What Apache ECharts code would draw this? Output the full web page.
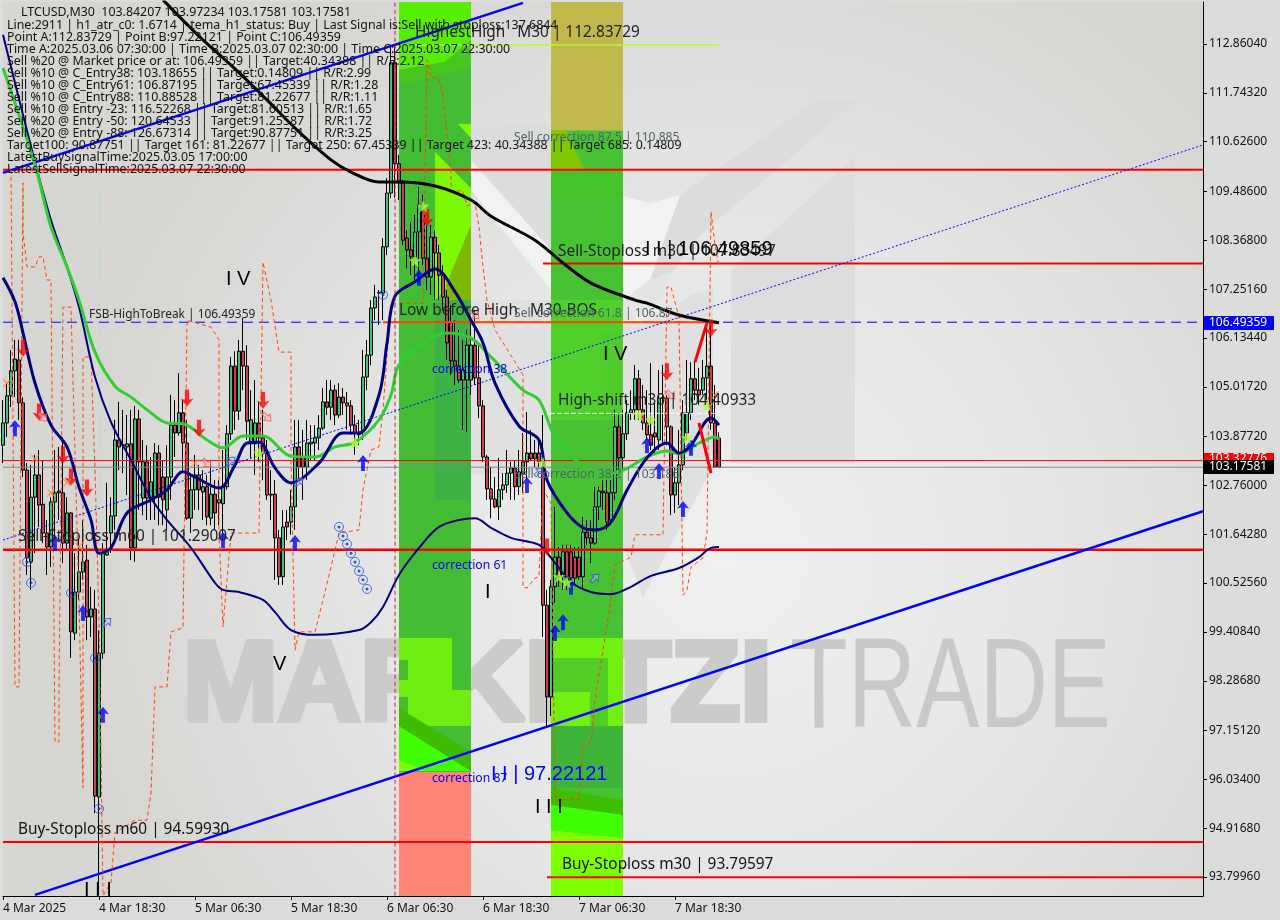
<!DOCTYPE html>
<html><head><meta charset="utf-8">
<style>html,body{margin:0;padding:0;background:#dcdcdc}#c{width:1280px;height:920px}</style>
<script src="https://cdn.jsdelivr.net/npm/echarts@6/dist/echarts.min.js"></script>
</head><body><div id="c"></div>
<script>
const opens=[103.68,104.19,104.81,105.38,105.63,104.65,103.11,101.01,102.49,103.00,102.33,101.67,101.35,102.38,102.59,102.59,101.44,102.13,99.38,100.32,100.78,101.05,99.75,99.93,95.63,98.92,101.17,101.67,102.06,103.80,103.69,103.64,103.71,101.33,104.28,102.47,103.30,102.43,102.49,103.50,102.95,102.20,102.95,104.14,103.96,104.42,103.73,102.01,102.66,103.00,102.61,102.73,102.01,102.56,102.36,102.34,102.73,103.94,105.49,104.46,105.83,105.49,103.71,103.71,104.19,103.85,103.50,102.54,102.56,101.56,100.67,101.92,101.92,102.27,103.64,103.41,103.18,103.71,103.73,103.85,104.07,104.67,104.55,104.94,104.37,104.78,104.65,104.58,104.14,103.96,103.98,105.24,105.74,106.82,107.16,107.16,108.22,109.45,112.43,110.12,109.68,108.42,108.15,107.99,108.56,109.18,107.96,107.53,108.44,108.08,107.57,107.07,106.48,105.61,105.49,105.17,105.17,105.17,105.97,105.22,104.58,103.41,102.68,102.45,102.27,102.66,102.77,103.04,103.16,102.73,103.02,103.30,103.50,103.50,103.50,103.18,100.02,97.92,100.44,101.12,100.67,101.24,101.24,101.12,101.12,100.67,101.69,101.56,101.44,102.27,102.63,102.59,101.97,102.59,104.10,103.39,103.94,104.42,104.49,105.20,104.49,104.19,103.92,103.96,103.80,104.75,104.76,104.10,102.54,102.82,103.23,103.96,104.42,105.20,104.94,104.94,105.22,105.49,104.19,103.84207];
const closes=[104.19,104.81,105.38,105.65,104.65,103.11,101.10,102.49,103.00,102.31,101.67,101.35,102.38,102.59,102.63,101.44,102.13,99.41,100.32,100.78,101.01,99.75,99.93,95.65,98.92,101.21,101.24,102.06,103.80,103.64,103.68,103.71,101.33,104.28,103.30,103.30,102.47,102.84,103.50,102.49,102.43,102.95,104.14,103.96,104.42,103.73,102.01,102.66,103.00,102.66,102.73,102.04,102.56,102.13,102.43,102.73,103.94,105.49,104.46,105.83,105.49,104.23,104.26,104.19,103.85,103.50,102.54,102.56,101.56,100.67,101.81,101.81,102.27,103.64,103.18,103.18,103.73,103.75,103.85,104.07,104.67,104.55,104.94,104.37,104.78,104.65,104.58,104.14,103.96,103.92,105.24,105.74,106.82,107.07,107.17,108.22,109.45,112.43,110.12,109.68,108.37,108.15,107.99,108.56,109.18,107.96,107.53,108.44,108.08,107.57,107.07,106.02,105.61,105.49,105.17,105.40,105.97,105.97,105.22,104.58,103.41,102.68,102.45,102.27,102.66,102.77,103.04,103.16,102.73,103.07,103.30,103.50,103.37,103.37,103.30,100.02,97.92,100.44,101.12,100.67,101.24,100.67,100.64,100.64,100.67,101.69,101.56,101.44,102.27,102.63,102.59,101.92,102.59,104.10,103.39,103.94,104.42,104.49,105.20,104.49,104.19,103.92,103.68,103.87,104.76,104.77,104.10,102.54,102.82,103.23,104.42,104.42,105.20,104.94,104.83,105.22,105.49,104.19,103.18,103.17581];
const lows=[103.27,103.87,104.55,104.78,104.26,102.95,100.71,100.37,101.21,101.81,101.44,100.71,100.89,101.51,101.97,100.98,101.28,98.81,99.22,100.14,100.60,99.22,99.29,95.26,93.39,98.79,101.15,101.21,101.74,103.11,103.04,102.54,101.05,101.01,102.20,102.08,101.97,101.97,101.97,101.85,101.85,101.74,102.43,103.41,103.90,103.11,101.97,101.67,102.20,102.20,101.97,101.85,101.85,101.74,101.85,101.51,102.66,103.80,104.03,104.26,104.94,103.80,103.39,103.00,103.30,102.88,102.43,101.97,100.60,100.48,100.48,101.51,101.63,101.74,102.88,102.43,102.88,103.34,103.34,103.57,104.03,104.37,104.26,104.14,104.30,104.37,104.03,103.92,103.46,103.68,103.80,104.94,105.51,106.54,106.43,106.54,108.03,109.34,109.34,109.29,108.26,107.73,107.57,107.46,107.46,107.80,107.23,107.12,107.00,107.00,106.77,105.63,105.29,105.06,105.10,104.03,103.98,104.83,105.06,104.30,103.30,102.43,102.01,102.24,101.97,102.43,102.59,102.43,102.43,102.54,102.59,102.88,103.34,103.18,103.18,99.29,97.25,97.48,100.07,100.44,100.37,100.37,100.48,100.48,100.60,100.37,101.40,100.98,101.40,101.97,102.20,101.74,101.85,102.43,103.11,103.11,103.80,104.26,104.26,104.26,104.03,103.80,103.57,103.46,103.57,103.68,103.68,102.08,102.13,102.31,103.11,103.80,104.26,104.71,104.60,104.83,104.71,104.03,103.16,103.17581];
const highs=[104.71,105.10,105.86,106.09,106.09,104.78,103.27,103.23,103.46,103.57,103.34,101.97,102.49,103.57,103.64,103.87,102.49,102.15,101.21,101.51,101.97,101.40,100.44,100.37,99.45,101.44,102.82,102.49,104.26,104.67,104.49,104.37,104.49,104.58,104.49,103.80,103.68,103.41,103.73,103.68,103.34,103.68,104.83,104.71,105.33,104.71,104.26,103.04,103.46,103.23,103.11,103.00,103.34,102.88,102.88,103.57,104.14,105.70,105.83,106.09,106.59,105.97,104.94,105.17,104.67,104.49,103.80,103.11,102.88,101.74,102.20,102.20,102.66,104.26,104.26,104.03,104.26,104.14,104.14,104.37,104.99,105.17,105.17,105.06,105.10,104.99,104.90,104.71,104.37,104.26,105.86,106.09,107.00,107.35,107.23,108.42,109.79,112.84,112.84,110.32,109.75,108.60,108.79,108.95,109.59,109.41,108.72,108.72,108.60,108.26,107.80,107.23,106.89,106.54,106.32,106.09,106.32,106.54,106.77,105.97,104.71,103.46,103.18,102.95,103.39,103.04,103.57,103.30,103.34,103.57,103.96,104.44,104.03,103.80,103.80,104.37,100.37,100.60,102.27,101.35,101.40,101.40,101.40,101.35,101.35,102.04,101.97,101.97,102.73,102.73,102.88,102.88,102.88,104.49,104.37,104.49,104.71,104.94,105.52,105.40,105.06,104.94,105.56,104.71,105.40,105.52,104.83,104.14,103.18,104.03,104.71,105.63,105.58,105.63,105.45,105.63,106.50,106.50,105.06,103.97234];

const navyThin=[[0,113.07],[8,110.16],[12,108.83],[16,107.76],[19,106.84],[23,105.24],[27,104.21],[32,103.34],[37,102.47],[41,101.97],[47,101.33],[53,100.53],[55,100.37],[59,100.32],[65,100.14],[68,99.86],[72,99.45],[78,99.34],[89,99.45],[92,99.63],[95,99.98],[99,100.71],[104,101.33],[109,101.81],[114,101.97],[118,102.01],[122,101.79],[127,101.56],[134,101.40],[137,101.10],[142,100.55],[147,100.32],[152,100.27],[157,100.44],[162,100.69],[169,100.87],[174,101.12],[177,101.33],[179,101.35]];
const navyThick=[[0,107.51],[3,106.96],[5,106.25],[8,105.10],[12,104.14],[16,103.64],[19,102.72],[22,101.97],[24,101.21],[27,101.33],[31,102.13],[37,102.43],[41,102.66],[45,103.07],[48,102.95],[54,102.70],[58,103.23],[61,103.73],[64,103.75],[68,103.16],[72,102.82],[79,103.27],[85,103.96],[89,103.96],[94,104.83],[96,106.02],[98,107.09],[103,107.42],[108,107.71],[113,107.19],[117,106.54],[120,106.02],[123,105.10],[129,104.12],[134,103.80],[136,102.88],[141,102.13],[145,101.79],[148,101.74],[152,101.92],[156,102.65],[161,103.39],[166,103.73],[169,103.50],[172,103.68],[177,104.30],[179,104.14]];
const greenLine=[[0,112.31],[8,110.09],[12,108.67],[16,107.76],[19,107.00],[23,105.81],[28,105.03],[32,104.78],[36,104.49],[41,104.19],[45,104.17],[51,103.80],[55,103.62],[60,103.89],[65,103.89],[72,103.43],[78,103.41],[83,103.64],[88,103.75],[94,104.26],[97,104.83],[99,105.52],[105,106.02],[111,106.25],[117,106.13],[122,105.70],[130,104.94],[134,104.71],[138,103.87],[144,103.27],[149,103.00],[155,103.11],[161,103.41],[166,103.55],[169,103.48],[174,103.73],[178,103.87],[179,103.82]];
const blackLine=[[40,113.87],[49,113.04],[58,112.29],[66,111.58],[74,110.85],[82,110.21],[87,109.93],[94,109.70],[99,109.70],[108,109.61],[117,109.29],[122,108.92],[133,108.37],[140,107.85],[147,107.39],[158,107.00],[161,106.93],[169,106.66],[179,106.48]];
const orangeLine=[[2,109.98],[3,98.15],[4,98.15],[5,109.68],[5,108.54],[6,107.76],[8,107.76],[9,107.99],[10,107.99],[11,107.46],[12,107.46],[13,96.89],[14,96.89],[14,98.12],[15,106.84],[17,106.84],[19,100.14],[20,95.84],[20,105.70],[22,105.70],[23,103.11],[24,99.68],[25,93.37],[27,93.66],[28,94.81],[33,95.10],[36,95.10],[37,95.72],[38,98.15],[41,98.15],[42,99.41],[45,99.50],[46,106.54],[52,106.38],[54,106.09],[54,101.67],[55,99.52],[57,101.67],[64,101.67],[65,107.87],[67,107.00],[69,105.81],[72,105.81],[72,103.34],[73,98.99],[74,99.41],[78,99.41],[80,100.14],[82,100.89],[84,101.67],[89,101.74],[90,102.66],[92,103.57],[94,103.64],[95,104.49],[97,106.93],[105,106.93],[106,112.50],[107,112.10],[109,112.08],[110,111.65],[112,109.98],[112,109.50],[115,109.50],[116,109.15],[118,109.24],[119,108.67],[120,107.76],[121,107.00],[123,106.32],[130,105.29],[130,100.44],[131,100.41],[133,100.64],[134,100.67],[135,102.66],[137,102.36],[138,95.56],[144,95.58],[145,96.87],[147,96.87],[148,97.85],[150,98.99],[152,100.14],[153,100.94],[157,101.12],[158,101.63],[165,101.63],[166,107.30],[167,107.30],[169,106.61],[170,100.25],[171,100.37],[172,100.89],[175,101.10],[176,101.67],[177,109.02],[178,108.26],[179,107.76]];

const trendLow=[[8,93.39],[300,102.17]];
const trendHigh=[[0,109.91],[130,113.80]];
const trendDotted=[[0,101.51],[300,110.55]];
const redUp=[[173,105.58],[176,106.48]];
const redDown=[[174,104.19],[177,103.04]];

const sellArrows=[[5,105.90],[9,104.44],[15,103.46],[17,102.95],[21,102.70],[46,104.76],[49,104.07],[65,104.71],[106,108.88],[136,101.35],[166,105.36],[177,106.36]];
const buyArrows=[[3,104.07],[13,101.44],[20,99.84],[25,97.51],[55,101.51],[73,101.44],[90,103.27],[104,107.51],[131,102.77],[138,99.38],[140,99.63],[142,100.44],[161,103.68],[164,103.09],[170,102.22],[172,103.62]];
const stars=[[64,103.50],[88,103.73],[105,109.15],[103,107.90],[135,103.27],[139,100.67],[141,100.55],[159,104.37],[162,104.26],[171,103.85],[176,104.60]];
const crosses=[[1,105.10],[8,103.37],[12,102.59],[16,102.82],[19,101.36],[48,103.27],[178,104.83]];
const circles=[[84,101.81],[85,101.60],[86,101.42],[87,101.21],[88,101.01],[89,100.80],[90,100.60],[91,100.39],[6,101.01],[7,100.53],[17,100.30],[23,98.81],[24,95.36],[95,107.12]];
const hollowSell=[[10,104.32],[51,103.27],[66,104.32],[118,106.66],[167,104.83]];
const hollowBuy=[[26,99.63],[57,103.32],[74,102.84],[148,100.64],[134,103.07]];

const priceTicks=[112.8604,111.7432,110.626,109.486,108.368,107.2516,106.1344,105.0172,103.8772,102.76,101.6428,100.5256,99.4084,98.2868,97.1512,96.034,94.9168,93.7996];
const timeTickIdx=[0,24,48,72,96,120,144,168];
const timeTickLabels=['4 Mar 2025','4 Mar 18:30','5 Mar 06:30','5 Mar 18:30','6 Mar 06:30','6 Mar 18:30','7 Mar 06:30','7 Mar 18:30'];

const hLevels=[
 [109.98,0,300,'#ff0000',2,'solid'],
 [107.83497,135,300,'#ff0000',2,'solid'],
 [106.49359,0,300,'#0000ff',1,[10,6]],
 [106.49359,95,179,'#ff4500',2,'solid'],
 [103.32776,0,300,'#ff0000',1,'solid'],
 [103.17581,0,300,'#808890',1,'solid'],
 [101.29007,0,300,'#ff0000',2.5,'solid'],
 [94.5993,0,300,'#ff0000',2,'solid'],
 [93.79597,136,300,'#ff0000',2,'solid'],
 [112.83729,103,179,'#adff2f',1.5,'solid'],
 [104.40933,135,179,'#ffffff',1,[5,2]]
];
const headerLines=['LTCUSD,M30  103.84207 103.97234 103.17581 103.17581',
'Line:2911 | h1_atr_c0: 1.6714 | tema_h1_status: Buy | Last Signal is:Sell with stoploss:137.6844',
'Point A:112.83729 | Point B:97.22121 | Point C:106.49359',
'Time A:2025.03.06 07:30:00 | Time B:2025.03.07 02:30:00 | Time C:2025.03.07 22:30:00',
'Sell %20 @ Market price or at: 106.49359 || Target:40.34388 || R/R:2.12',
'Sell %10 @ C_Entry38: 103.18655 || Target:0.14809 || R/R:2.99',
'Sell %10 @ C_Entry61: 106.87195 || Target:67.45339 || R/R:1.28',
'Sell %10 @ C_Entry88: 110.88528 || Target:81.22677 || R/R:1.11',
'Sell %10 @ Entry -23: 116.52268 || Target:81.60513 || R/R:1.65',
'Sell %20 @ Entry -50: 120.64533 || Target:91.25587 || R/R:1.72',
'Sell %20 @ Entry -88: 126.67314 || Target:90.87751 || R/R:3.25',
'Target100: 90.87751 || Target 161: 81.22677 || Target 250: 67.45339 || Target 423: 40.34388 || Target 685: 0.14809',
'LatestBuySignalTime:2025.03.05 17:00:00',
'LatestSellSignalTime:2025.03.07 22:30:00'];
const ROMAN='"Liberation Sans",sans-serif';
const notes=[
 ['FSB-HighToBreak | 106.49359',89,315,11.9,'#222'],
 ['Sell-Stoploss m60 | 101.29007',18,537,15.4,'#222'],
 ['Buy-Stoploss m60 | 94.59930',18,830,15.4,'#111'],
 ['HighestHigh   M30 | 112.83729',415,33,15.4,'#222'],
 ['Sell correction 87.5 | 110.885',514,138,12.1,'#4f6468'],
 ['Sell-Stoploss m30 | 107.83497',558,252,15.4,'#222'],
 ['I I | 106.49859',645,249,20,'#000',ROMAN],
 ['Low before High   M30-BOS',399,311,15.4,'#222'],
 ['Sell correction 61.8 | 106.87',514,314,12.1,'#4f6468'],
 ['I V',226,279,20,'#000',ROMAN],['I V',603,354,20,'#000',ROMAN],
 ['High-shift m30 | 104.40933',558,401,15.4,'#222'],
 ['Sell correction 38.2 | 103.186',514,475,12.1,'#4f6468'],
 ['correction 38',432,370,12.2,'#0000ff'],
 ['correction 61',432,566,12.2,'#0000ff'],
 ['correction 87',432,779,12.2,'#0000ff'],
 ['I',485,592,20,'#000',ROMAN],['V',273,664,20,'#000',ROMAN],
 ['I I | 97.22121',491,774,20,'#0000ff',ROMAN],
 ['I I I',535,807,20,'#000',ROMAN],['I I I',84,890,20,'#000',ROMAN],
 ['Buy-Stoploss m30 | 93.79597',562,865,15.4,'#111']
];
const bandSegs=[
 [99,117,113.82,93.37,'#43bd33'],
 [99,117,96.2,93.37,'#ff8677'],
 [137,155,113.82,93.37,'#47c232'],
 [137,155,113.82,110.88,'#c0b84a']
];

const FONT='"Noto Sans","Open Sans",sans-serif';
const cats=Array.from({length:301},(_,i)=>{const k=timeTickIdx.indexOf(i);return k>=0?timeTickLabels[k]:''});
const isTick=(i,v)=>v!=='';
const poly=(pts,fill,z)=>({type:'polygon',silent:true,z:z,shape:{points:pts},style:{fill}});
const rect=(x,y,w,h,fill,z)=>({type:'rect',silent:true,z:z,shape:{x,y,width:w,height:h},style:{fill}});
const text=(t,x,y,size,fill,font)=>({type:'text',silent:true,z:100,style:{text:t,x,y,fill,font:size+'px '+(font||FONT),textVerticalAlign:'middle'}});

const graphics=[
 rect(3,2,1200,894,{type:'radial',x:0.6,y:0.62,r:0.72,colorStops:[{offset:0,color:'#f0f0f0'},{offset:0.5,color:'#e6e6e6'},{offset:1,color:'#d7d6d3'}]},-5),
 // faint logo shapes behind the chart
 rect(435,300,116,174,'#e0e0e0',-4),
 poly([[471,124],[551,124],[551,250],[471,160]],'#dcdcdc',-4),
 poly([[471,160],[551,250],[551,290],[471,190]],'#f2f2f2',-4),
 poly([[731,270],[855,157],[855,463],[731,463]],'#dddddd',-4),
 poly([[623,325],[660,318],[690,295],[713,288],[713,467],[643,597],[623,545]],'#e0e0e0',-4),
 poly([[680,195],[817,100],[858,100],[700,235],[672,272],[650,280]],'#dcdcdc',-4),
 poly([[623,196],[650,203],[680,195],[650,280],[623,300]],'#f2f2f2',-4),
 poly([[623,300],[650,280],[672,272],[660,300],[623,325]],'#e4e4e4',-4),
 // watermark, real text
 {type:'text',silent:true,z:-3,x:183,y:746,scaleX:1,style:{text:'MARKETZI',x:0,y:0,fill:'#cbcbc9',stroke:'#cbcbc9',lineWidth:6,font:'bold 114px "Liberation Sans"',textVerticalAlign:'bottom'}},
 {type:'text',silent:true,z:-3,x:790,y:756,scaleX:0.74,style:{text:'TRADE',x:0,y:0,fill:'#c9c9c7',font:'128px "Liberation Sans"',textVerticalAlign:'bottom'}},
 // facets of the bands, where they cross the logo and the backdrop
 poly([[399,2],[471,2],[471,40],[445,62],[399,70]],'#58ee04',1),
 poly([[399,70],[445,62],[471,40],[471,68],[399,85]],'#46c61f',1),
 poly([[458,124],[471,124],[471,138]],'#82f800',1),
 poly([[435,152],[471,188],[471,240],[445,290],[435,300]],'#7cf800',1),
 poly([[446,285],[471,225],[471,300],[446,300]],'#7fb800',1),
 rect(435,300,36,200,'#3cb344',1),
 rect(399,638,53,88,'#70ee12',1),
 rect(452,690,19,36,'#70ee12',1),
 rect(399,660,9,20,'#46bd2c',1),
 rect(399,697,9,29,'#46bd2c',1),
 poly([[399,726],[471,771],[399,771]],'#40ff00',1),
 poly([[399,760],[425,771],[399,771]],'#7cff00',1),
 poly([[399,708],[471,752],[471,771],[399,726]],'#3ebd00',1),
 poly([[551,130],[565,130],[585,170],[551,170]],'#7dc800',1),
 rect(551,170,72,30,'#44c428',1),
 rect(551,300,72,120,'#4fd02a',1),
 rect(601,330,22,90,'#4fcb2c',1),
 rect(551,638,72,88,'#72f010',1),
 rect(553,658,55,34,'#52cc26',1),
 rect(590,692,18,34,'#52cc26',1),
 rect(551,726,72,62,'#3eb53a',1),
 poly([[551,788],[623,800],[623,815],[551,805]],'#3fbd00',1),
 poly([[551,805],[623,815],[623,838],[551,830]],'#3dff00',1),
 poly([[551,830],[623,838],[623,896],[551,896]],'#7dff00',1),
 // price tags on the axis
 rect(1204,316,70,14,'#0000ff',90),
 rect(1204,453,70,10,'#ff0000',90),
 rect(1204,460,70,14,'#000000',91),
 text('106.49359',1209,323,12,'#ffffff'),
 {type:'text',silent:true,z:90,style:{text:'103.32776',x:1209,y:459,fill:'#fff',font:'12px '+FONT,textVerticalAlign:'middle'}},
 text('103.17581',1209,467,12,'#ffffff')
];
headerLines.forEach((t,i)=>graphics.push(text(t,i===0?21:7,i===0?12:25.6+(i-1)*12.01,12.4,'#111')));
notes.forEach(n=>graphics.push(text(n[0],n[1],n[2],n[3],n[4],n[5])));

const line=(data,color,width,type,extra)=>Object.assign({type:'line',data,symbol:'none',silent:true,z:4,clip:true,lineStyle:{color,width,type:type||'solid'}},extra||{});
const arrowUp='path://M5 0 L10 7 L6.6 6 L6.6 15 L3.4 15 L3.4 6 L0 7 Z';
const hollow='path://M0 4 L6 4 L6 0 L12 6 L6 12 L6 8 L0 8 Z';
const star='path://M5 0 L6.2 3.6 L10 3.6 L7 5.9 L8.1 9.5 L5 7.3 L1.9 9.5 L3 5.9 L0 3.6 L3.8 3.6 Z';
const cross='path://M0 1 L1 0 L5 4 L9 0 L10 1 L6 5 L10 9 L9 10 L5 6 L1 10 L0 9 L4 5 Z';
const scat=(data,symbol,size,style,extra)=>Object.assign({type:'scatter',data,symbol,symbolSize:size,silent:true,z:6,itemStyle:style},extra||{});
const SM={smooth:0.35};

const series=[
 {type:'line',data:[],silent:true,z:0,markArea:{silent:true,z:0,data:bandSegs.map(s=>[{xAxis:s[0],yAxis:s[2],itemStyle:{color:s[4],opacity:1}},{xAxis:s[1],yAxis:s[3]}])}},
 {type:'candlestick',z:3,silent:true,barWidth:4,clip:true,
  data:opens.map((o,i)=>[o,closes[i],lows[i],highs[i]]),
  itemStyle:{color:'#33c878',color0:'#d23c50',borderColor:'#000',borderColor0:'#000',borderWidth:1}},
 ...hLevels.map(h=>line([[h[1],h[0]],[h[2],h[0]]],h[3],h[4],h[5])),
 line(trendDotted,'#0000ff',1,[2,2]),
 line(trendLow,'#0000ff',2.5),
 line(trendHigh,'#0000ff',2.5),
 line(orangeLine,'#ff4500',1,[4,3]),
 line(navyThin,'#000080',2,null,SM),
 line(greenLine,'#32cd32',3,null,SM),
 line(navyThick,'#000080',3,null,SM),
 line(blackLine,'#000000',3,null,SM),
 line(redUp,'#ff0000',3),
 line(redDown,'#ff0000',3),
 line([[98,93.37],[98,113.82]],'#c8203c',1,[4,3]),
 line([[24,93.37],[24,113.82]],'#a8dcdc',1,[4,3],{z:2}),
 scat(sellArrows,arrowUp,[13,17],{color:'#ff0000'},{symbolRotate:180}),
 scat(buyArrows,arrowUp,[12,16],{color:'#0000ff'}),
 scat(stars,star,[13,13],{color:'#adff2f'}),
 scat(crosses,cross,[8,8],{color:'#ff7f27'}),
 scat(circles,'circle',9,{color:'rgba(0,0,0,0)',borderColor:'#1e50e8',borderWidth:1}),
 scat(circles,'circle',3,{color:'#0a28c8'}),
 scat(hollowSell,hollow,[11,9],{color:'rgba(255,190,190,0.6)',borderColor:'#ff5050',borderWidth:1},{symbolRotate:-45}),
 scat(hollowBuy,hollow,[11,9],{color:'rgba(190,200,255,0.5)',borderColor:'#3050e0',borderWidth:1},{symbolRotate:45})
];

const chart=echarts.init(document.getElementById('c'),null,{renderer:'canvas'});
chart.setOption({
 animation:false,backgroundColor:'#dcdcdc',
 grid:{left:3,top:2,width:1200,height:894,show:false},
 xAxis:{type:'category',boundaryGap:false,data:cats,
  axisLine:{lineStyle:{color:'#000',width:1}},
  axisTick:{show:true,length:4,interval:isTick,alignWithLabel:true,lineStyle:{color:'#000'}},
  axisLabel:{interval:isTick,align:'left',margin:7,color:'#111',fontSize:12,fontFamily:FONT,hideOverlap:false},splitLine:{show:false}},
 yAxis:{type:'value',position:'right',min:93.365,max:113.821,scale:true,
  axisLine:{show:true,lineStyle:{color:'#000',width:1}},
  axisTick:{show:true,length:4,customValues:priceTicks,lineStyle:{color:'#000'}},
  axisLabel:{customValues:priceTicks,formatter:v=>v.toFixed(5),margin:6,padding:[3,0,0,0],color:'#111',fontSize:12,fontFamily:FONT,showMinLabel:true,showMaxLabel:true},splitLine:{show:false}},
 graphic:{elements:graphics},
 series
});
</script></body></html>
